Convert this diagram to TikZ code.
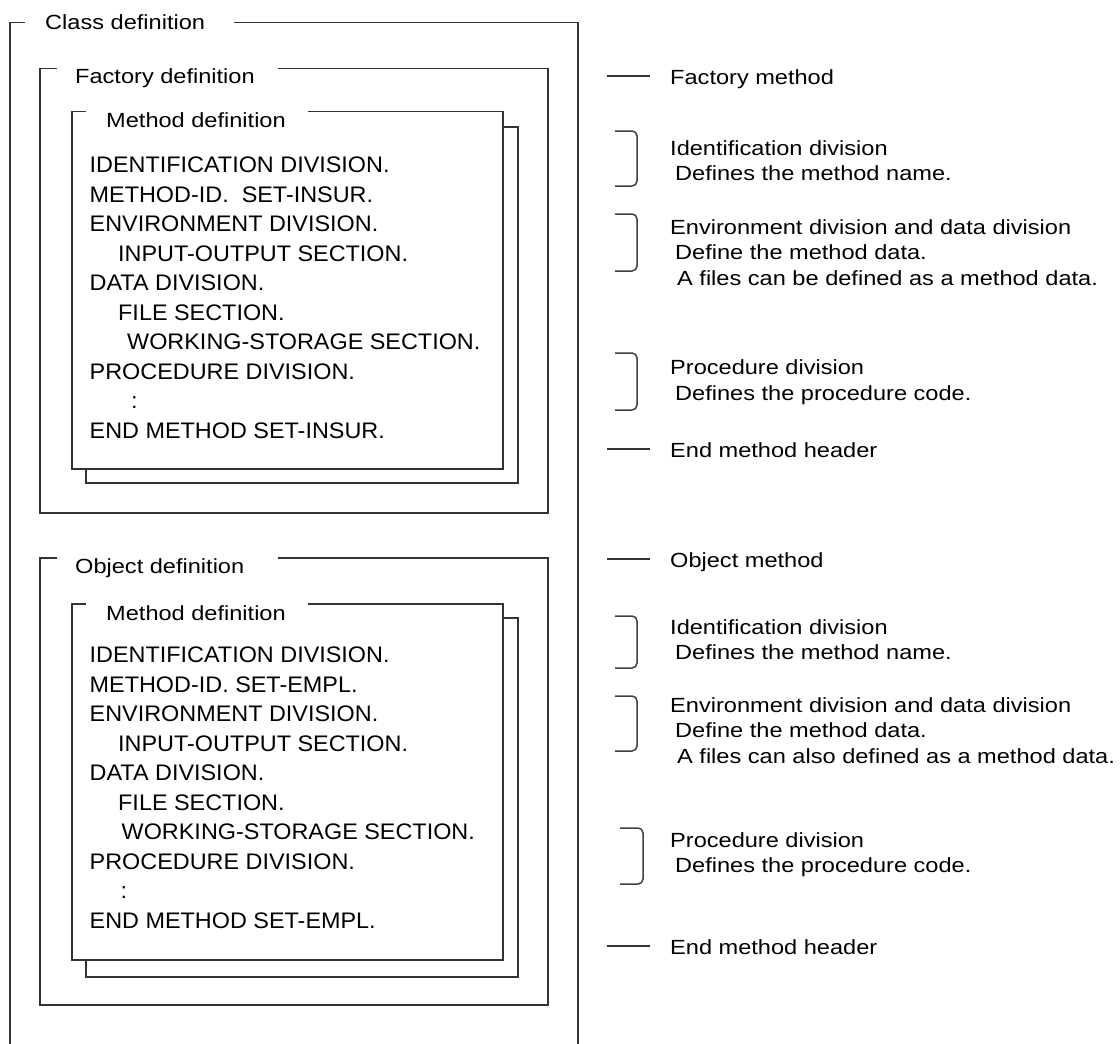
\documentclass[tikz,border=0pt]{standalone}
\usepackage{fontspec}
\setmainfont[FakeStretch=1.15]{Liberation Sans}
\newfontfamily\codefont[FakeStretch=1.04]{Liberation Sans}

\begin{document}
\begin{tikzpicture}[
    x=1pt, y=-1pt,
    frame/.style={draw=black!80, line width=1.5pt},
    brace/.style={draw=black!75, line width=1.5pt, rounded corners=5pt},
    title/.style={anchor=base west, inner sep=0pt, font=\fontsize{20.5}{24}\selectfont},
    code/.style={anchor=base west, inner sep=0pt, font=\codefont\fontsize{22.5}{27}\selectfont},
    note/.style={anchor=base west, inner sep=0pt, font=\fontsize{20.5}{24}\selectfont}
]
\useasboundingbox[fill=white] (0,0) rectangle (1120,1044);

% Class frame (open at the bottom)
\node[title] (classT) at (45,29.3) {Class definition};
\draw[frame] (25,22.7) -- (10,22.7) -- (10,1044);
\draw[frame] (234,22.7) -- (578,22.7) -- (578,1044);

% Factory definition
\node[title] (factT) at (75,83.3) {Factory definition};
\draw[frame] (57,68.3) -- (40,68.3) -- (40,513) -- (548,513) -- (548,68.3) -- (278,68.3);

% Method definition (stacked sheets)
\draw[frame] (503,127) -- (518,127) -- (518,483) -- (86,483) -- (86,469);
\node[title] (methT1) at (106,127.7) {Method definition};
\draw[frame] (86,111.7) -- (72,111.7) -- (72,469) -- (503,469) -- (503,111.7) -- (308,111.7);
\foreach \dx/\txt [count=\i from 0] in {0/IDENTIFICATION DIVISION., 0/METHOD-ID.\ \ SET-INSUR.,
    0/ENVIRONMENT DIVISION., 28.5/INPUT-OUTPUT SECTION., 0/DATA DIVISION., 28.5/FILE SECTION.,
    37.5/WORKING-STORAGE SECTION., 0/PROCEDURE DIVISION., 41.5/:, 0/END METHOD SET-INSUR.}
  \node[code] (codeA\i) at (89.5+\dx,172.7+29.5*\i) {\txt};

% Object definition
\node[title] (objT) at (75,573.5) {Object definition};
\draw[frame] (57,558) -- (40,558) -- (40,1005) -- (548,1005) -- (548,558) -- (278,558);

% Method definition (stacked sheets)
\draw[frame] (503,618) -- (518,618) -- (518,977) -- (86,977) -- (86,960);
\node[title] (methT2) at (106,620) {Method definition};
\draw[frame] (86,604) -- (72,604) -- (72,960) -- (503,960) -- (503,604) -- (308,604);
\foreach \dx/\txt [count=\i from 0] in {0/IDENTIFICATION DIVISION., 0/METHOD-ID. SET-EMPL.,
    0/ENVIRONMENT DIVISION., 28.5/INPUT-OUTPUT SECTION., 0/DATA DIVISION., 28.5/FILE SECTION.,
    32/WORKING-STORAGE SECTION., 0/PROCEDURE DIVISION., 31/:, 0/END METHOD SET-EMPL.}
  \node[code] (codeB\i) at (89.5+\dx,662.7+29.5*\i) {\txt};

% Notes for the factory side
\node[note] (factM) at (670,84) {Factory method};
\draw[frame] (607,76) -- (650,76);
\draw[brace] (615,131) -- (637,131) -- (637,186) -- (615,186);
\node[note] (idA) at (670,155) {Identification division};
\node[note] (idAd) at (675,180.5) {Defines the method name.};
\draw[brace] (615,214) -- (637,214) -- (637,271) -- (615,271);
\node[note] (envA) at (670,234) {Environment division and data division};
\node[note] (envAd) at (675,259.5) {Define the method data.};
\node[note] (envAf) at (677,285) {A files can be defined as a method data.};
\draw[brace] (615,353) -- (637,353) -- (637,410) -- (615,410);
\node[note] (procA) at (670,374.5) {Procedure division};
\node[note] (procAd) at (675,400) {Defines the procedure code.};
\node[note] (endA) at (670,457) {End method header};
\draw[frame] (607,449) -- (650,449);

% Notes for the object side
\node[note] (objM) at (670,567) {Object method};
\draw[frame] (607,559) -- (650,559);
\draw[brace] (615,616) -- (637,616) -- (637,668) -- (615,668);
\node[note] (idB) at (670,634) {Identification division};
\node[note] (idBd) at (675,659.5) {Defines the method name.};
\draw[brace] (615,696) -- (637,696) -- (637,751) -- (615,751);
\node[note] (envB) at (670,712) {Environment division and data division};
\node[note] (envBd) at (675,737.5) {Define the method data.};
\node[note] (envBf) at (677,763) {A files can also defined as a method data.};
\draw[brace] (620,828) -- (643,828) -- (643,884) -- (620,884);
\node[note] (procB) at (670,847) {Procedure division};
\node[note] (procBd) at (675,872.5) {Defines the procedure code.};
\node[note] (endB) at (670,954) {End method header};
\draw[frame] (607,946) -- (650,946);
\end{tikzpicture}
\end{document}
